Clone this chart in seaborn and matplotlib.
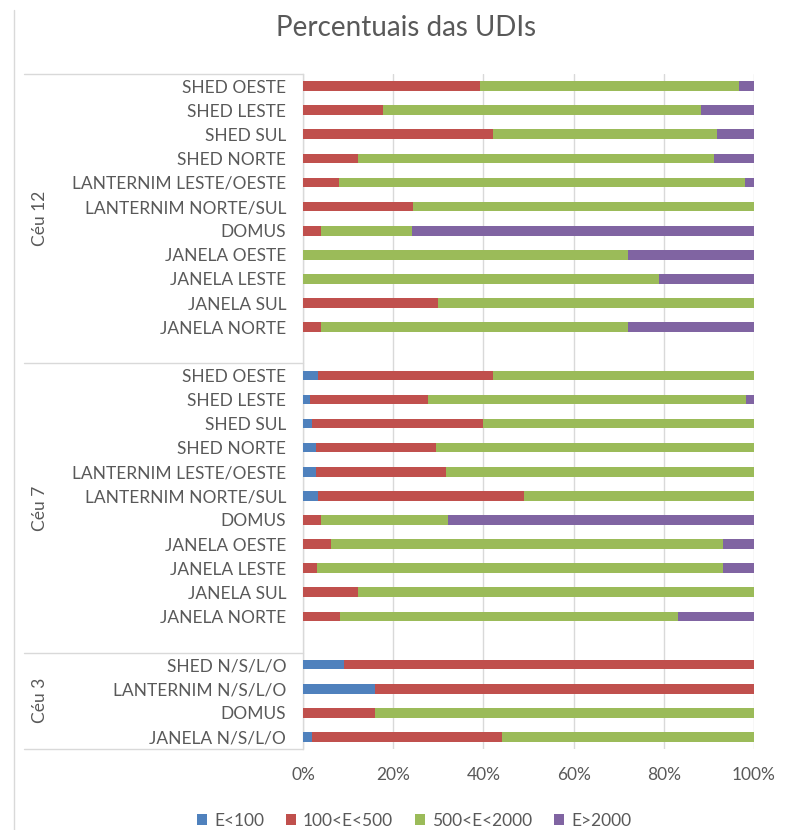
import numpy as np
import pandas as pd
import seaborn as sns
import matplotlib.pyplot as plt
import matplotlib.transforms as mtransforms
from matplotlib.patches import Patch
from matplotlib.lines import Line2D
from matplotlib.ticker import FuncFormatter

sns.set_theme(style="white")
plt.rcParams['font.family'] = ['Lato', 'DejaVu Sans']

TEXT = "#595959"
GRID = "#D9D9D9"

series_names = ["E<100", "100<E<500", "500<E<2000", "E>2000"]
series_colors = ["#4F81BD", "#C0504D", "#9BBB59", "#8064A2"]

group_names = ["Céu 12", "Céu 7", "Céu 3"]

# Céu 12 (top to bottom)
ceu12_labels = ["SHED OESTE", "SHED LESTE", "SHED SUL", "SHED NORTE",
                "LANTERNIM LESTE/OESTE", "LANTERNIM NORTE/SUL", "DOMUS",
                "JANELA OESTE", "JANELA LESTE", "JANELA SUL", "JANELA NORTE"]
ceu12_e100 = [0, 0, 0, 0, 0, 0, 0, 0, 0, 0, 0]
ceu12_e500 = [39.3, 17.7, 42.1, 12.3, 7.9, 24.4, 4.0, 0, 0, 30.0, 4.0]
ceu12_e2000 = [57.4, 70.6, 49.8, 78.9, 90.0, 75.6, 20.1, 72.0, 79.0, 70.0, 68.0]
ceu12_over = [3.3, 11.7, 8.1, 8.8, 2.1, 0, 75.9, 28.0, 21.0, 0, 28.0]

# Céu 7 (top to bottom)
ceu7_labels = ["SHED OESTE", "SHED LESTE", "SHED SUL", "SHED NORTE",
               "LANTERNIM LESTE/OESTE", "LANTERNIM NORTE/SUL", "DOMUS",
               "JANELA OESTE", "JANELA LESTE", "JANELA SUL", "JANELA NORTE"]
ceu7_e100 = [3.3, 1.5, 2.1, 2.8, 2.8, 3.3, 0, 0, 0, 0, 0]
ceu7_e500 = [38.8, 26.2, 37.8, 26.6, 28.8, 45.6, 4.0, 6.1, 3.1, 12.1, 8.1]
ceu7_e2000 = [57.9, 70.5, 60.1, 70.5, 68.4, 51.1, 28.2, 87.0, 90.0, 87.9, 75.1]
ceu7_over = [0, 1.8, 0, 0.1, 0, 0, 67.8, 6.9, 6.9, 0, 16.8]

# Céu 3 (top to bottom)
ceu3_labels = ["SHED N/S/L/O", "LANTERNIM N/S/L/O", "DOMUS", "JANELA N/S/L/O"]
ceu3_e100 = [9.0, 16.0, 0, 2.1]
ceu3_e500 = [91.0, 84.0, 16.0, 42.0]
ceu3_e2000 = [0, 0, 84.0, 55.9]
ceu3_over = [0, 0, 0, 0]

groups = [
    (ceu12_labels, [ceu12_e100, ceu12_e500, ceu12_e2000, ceu12_over]),
    (ceu7_labels, [ceu7_e100, ceu7_e500, ceu7_e2000, ceu7_over]),
    (ceu3_labels, [ceu3_e100, ceu3_e500, ceu3_e2000, ceu3_over]),
]

# Build a long table with one slot per row; an empty slot separates groups
rows = []
group_spans = []
slot = 0
for gi, (labels, vals) in enumerate(groups):
    start = slot
    for i, lab in enumerate(labels):
        row = {"pos": slot, "label": lab, "group": group_names[gi]}
        for s, v in zip(series_names, vals):
            row[s] = v[i]
        rows.append(row)
        slot += 1
    if gi < len(groups) - 1:
        slot += 1
    group_spans.append((start - 0.5, slot - 0.5))
n_slots = slot
df = pd.DataFrame(rows)

# Cumulative ends for a stacked look
cum = df[series_names].cumsum(axis=1)

fig = plt.figure(figsize=(7.87, 8.30), dpi=100)
ax = fig.add_axes([303 / 787, 1 - 749 / 830, (754 - 303) / 787, (749 - 74) / 830])

for k in range(len(series_names) - 1, -1, -1):
    layer = pd.DataFrame({"pos": df["pos"], "end": cum[series_names[k]]})
    sns.barplot(data=layer, x="end", y="pos", orient="y", native_scale=True,
                width=0.4, color=series_colors[k], saturation=1,
                errorbar=None, linewidth=0, ax=ax, zorder=3)

ax.set_xlim(0, 100)
ax.set_ylim(n_slots - 0.5, -0.5)
ax.set_xticks([0, 20, 40, 60, 80, 100])
ax.xaxis.set_major_formatter(FuncFormatter(lambda v, p: f"{int(v)}%"))
ax.set_yticks(df["pos"])
ax.set_yticklabels(df["label"])
ax.set_xlabel("")
ax.set_ylabel("")
ax.tick_params(axis="y", length=0, pad=12, labelsize=12.5, labelcolor=TEXT)
ax.tick_params(axis="x", length=0, pad=13, labelsize=12.5, labelcolor=TEXT)
ax.grid(axis="x", color=GRID, linewidth=1, zorder=0)
ax.grid(axis="y", visible=False)
for side in ["top", "right", "bottom"]:
    ax.spines[side].set_visible(False)
ax.spines["left"].set_color(GRID)
ax.spines["left"].set_linewidth(1)

# Multi-level category axis: group separators and rotated group names
trans = mtransforms.blended_transform_factory(ax.transAxes, ax.transData)
x_sep = (24 - 303) / 451
bounds = sorted({b for span in group_spans for b in span})
for b in bounds:
    ax.add_line(Line2D([x_sep, 0], [b, b], transform=trans, color=GRID,
                       linewidth=1, clip_on=False))
x_grp = (40 - 303) / 451
for name, (a, b) in zip(group_names, group_spans):
    ax.text(x_grp, (a + b) / 2, name, transform=trans, rotation=90,
            ha="center", va="center", fontsize=12.5, color=TEXT)

# Left border of the chart frame
fig.add_artist(Line2D([13.5 / 787, 13.5 / 787], [0, 1 - 10 / 830],
                      transform=fig.transFigure, color=GRID, linewidth=1))

fig.text(406 / 787, 1 - 28 / 830, "Percentuais das UDIs",
         ha="center", va="center", fontsize=20, color=TEXT)

handles = [Patch(facecolor=c, edgecolor="none", label=n)
           for n, c in zip(series_names, series_colors)]
fig.legend(handles=handles, loc="center", ncol=4, frameon=False,
           bbox_to_anchor=(414 / 787, 1 - 821 / 830), fontsize=12.5,
           labelcolor=TEXT, handlelength=0.6, handleheight=0.6,
           handletextpad=0.4, columnspacing=1.25)

fig.savefig("out.png", dpi=100, facecolor="white")
